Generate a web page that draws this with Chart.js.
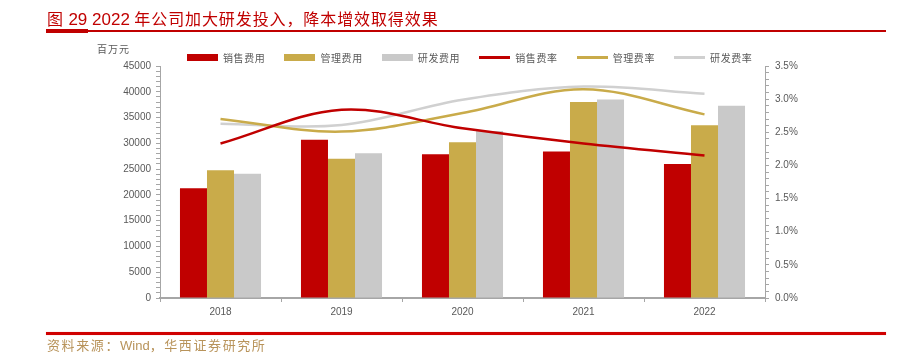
<!DOCTYPE html>
<html>
<head>
<meta charset="utf-8">
<script src="https://cdn.jsdelivr.net/npm/chart.js@4"></script>
<style>
    body { margin: 0; background: #fff; }
    #page { position: relative; width: 906px; height: 353px; overflow: hidden; font-family: "Noto Sans CJK SC", "Liberation Sans", sans-serif; }
    #chart { position: absolute; left: 0; top: 0; }
    .title { position: absolute; left: 47px; top: 6px; font-size: 16px; color: #c00000; letter-spacing: 0.9px; white-space: nowrap; }
    .title .num { font-family: "Liberation Sans", Arial, sans-serif; font-size: 17px; letter-spacing: 0; }
    .rule-top { position: absolute; left: 46px; top: 30px; width: 840px; height: 2px; background: #c00000; }
    .rule-top-thick { position: absolute; left: 46px; top: 29px; width: 42px; height: 4px; background: #c00000; }
    .unit { position: absolute; left: 97px; top: 41px; font-size: 10px; color: #595959; letter-spacing: 1px; }
    #legend { position: absolute; left: 187px; top: 50px; display: flex; font-size: 10px; color: #595959; letter-spacing: 0.6px; }
    .item { display: flex; align-items: center; margin-right: 19px; height: 14px; }
    .swatch { width: 31px; margin-right: 5px; }
    .rule-bottom { position: absolute; left: 46px; top: 332px; width: 840px; height: 3px; background: #d00000; box-shadow: 0 0 1px #f08080; }
    .source { position: absolute; left: 47px; top: 335px; font-size: 13px; color: #b8935a; letter-spacing: 1.6px; white-space: nowrap; }
    .source .lat { font-family: "Liberation Sans", Arial, sans-serif; letter-spacing: 0; }
</style>
</head>
<body>
<div id="page">
    <canvas id="chart" width="906" height="353"></canvas>
    <div class="title">图 <span class="num">29 2022</span> 年公司加大研发投入，降本增效取得效果</div>
    <div class="rule-top"></div>
    <div class="rule-top-thick"></div>
    <div class="unit">百万元</div>
    <div id="legend"></div>
    <div class="rule-bottom"></div>
    <div class="source">资料来源：<span class="lat">Wind</span>，华西证券研究所</div>
</div>
<script>
// Chart data
const years = ['2018', '2019', '2020', '2021', '2022'];
const salesCost = [21300, 30700, 27900, 28400, 26000];
const adminCost = [24800, 27000, 30200, 38000, 33500];
const rdCost = [24100, 28100, 32400, 38500, 37300];
const salesRate = [2.33, 2.84, 2.56, 2.33, 2.15];
const adminRate = [2.70, 2.51, 2.79, 3.15, 2.77];
const rdRate = [2.63, 2.61, 2.99, 3.19, 3.08];

const RED = '#c00000';
const GOLD = '#c9ab4a';
const GRAY = '#c9c9c9';
const tickFont = { family: '"Liberation Sans", Arial, sans-serif', size: 10 };

const barSet = (label, data, color) => ({
    type: 'bar', label, data, backgroundColor: color,
    yAxisID: 'y', order: 2,
    categoryPercentage: 0.67, barPercentage: 1
});

const lineSet = (label, data, color) => ({
    type: 'line', label, data, borderColor: color, backgroundColor: color,
    borderWidth: 2.5, pointRadius: 0, tension: 0.35,
    yAxisID: 'y1', order: 1
});

const datasets = [
    barSet('销售费用', salesCost, RED),
    barSet('管理费用', adminCost, GOLD),
    barSet('研发费用', rdCost, GRAY),
    lineSet('销售费率', salesRate, RED),
    lineSet('管理费率', adminRate, GOLD),
    lineSet('研发费率', rdRate, '#d0d0d0')
];

// Legend
document.getElementById('legend').innerHTML = datasets.map(ds => `
    <div class="item">
        <div class="swatch" style="height:${ds.type === 'bar' ? 7 : 3}px;background:${ds.type === 'bar' ? ds.backgroundColor : ds.borderColor}"></div>
        <span>${ds.label}</span>
    </div>
`).join('');

new Chart(document.getElementById('chart').getContext('2d'), {
    data: { labels: years, datasets },
    options: {
        responsive: false,
        animation: false,
        layout: { padding: { left: 0, top: 66, right: 91, bottom: 30 } },
        plugins: { legend: { display: false }, tooltip: { enabled: false } },
        scales: {
            x: {
                offset: true,
                grid: { offset: true, drawOnChartArea: false, tickLength: 4, color: '#a6a6a6' },
                border: { color: '#a6a6a6', width: 2 },
                ticks: { font: tickFont, color: '#595959', padding: 4 },
                afterFit: s => { s.height = 25; }
            },
            y: {
                position: 'left',
                min: 0, max: 45000,
                grid: { drawOnChartArea: false, tickLength: 4, color: '#a6a6a6' },
                border: { color: '#a6a6a6' },
                ticks: {
                    stepSize: 1000, autoSkip: false, font: tickFont, color: '#595959', padding: 5,
                    callback: v => (v % 5000 === 0 ? v : '')
                },
                afterFit: s => { s.width = 160; }
            },
            y1: {
                position: 'right',
                min: 0, max: 3.5,
                grid: { drawOnChartArea: false, tickLength: 4, color: '#a6a6a6' },
                border: { color: '#a6a6a6' },
                ticks: {
                    stepSize: 0.1, autoSkip: false, font: tickFont, color: '#595959', padding: 6,
                    callback: v => (Math.abs(v * 10 - Math.round(v * 10)) < 1e-6 && Math.round(v * 10) % 5 === 0 ? v.toFixed(1) + '%' : '')
                },
                afterFit: s => { s.width = 50; }
            }
        }
    }
});
</script>
</body>
</html>
